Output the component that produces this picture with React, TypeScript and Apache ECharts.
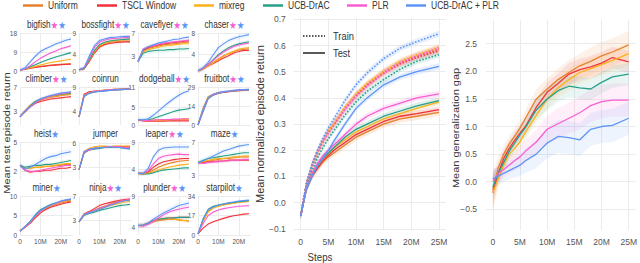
import React, { useEffect, useRef } from "react";
import * as echarts from "echarts";

// ---------- data ----------
const METHODS = ["Uniform", "TSCL Window", "mixreg", "UCB-DrAC", "PLR", "UCB-DrAC + PLR"];
const COLORS = ["#e6812e", "#f2333a", "#fbb11c", "#27a08a", "#f85fd0", "#5d95f6"];

const SMALL_STEPS = [0, 2.5, 5, 7.5, 10, 12.5, 15, 17.5, 20, 22.5, 25]; // millions
const SMALL_XTICKS = [0, 10, 20];

const GAME_NAMES = ["bigfish", "bossfight", "caveflyer", "chaser", "climber", "coinrun", "dodgeball", "fruitbot", "heist", "jumper", "leaper", "maze", "miner", "ninja", "plunder", "starpilot"];
const GAME_STARS = ["pb", "pb", "pb", "pb", "pb", "", "pb", "pb", "b", "", "pb", "b", "b", "pb", "pb", "b"];
const GAME_YMIN = [0, 0, 0.6, 1, 0.7, 1.1, 0, 0, 1.1, 1.4, 2.1, 2.4, 0, 0.5, 2.8, 0];
const GAME_YMAX = [18, 9, 7, 8, 7, 9, 11, 29, 5, 6.2, 9, 7, 10, 7, 9, 34];
const GAME_YTICKS = [[0, 9, 18], [0, 4, 9], [3, 7], [4, 8], [3, 7], [4, 9], [0, 5, 11], [0, 14, 29], [2, 5], [3, 6], [4, 9], [3, 7], [0, 5, 10], [3, 7], [4, 9], [0, 17, 34]];

// series order: Uniform, TSCL Window, mixreg, UCB-DrAC, PLR, UCB-DrAC + PLR
const BIGFISH = [
  [0.5, 0.8, 1.4, 1.8, 2.2, 2.5, 2.8, 3.0, 3.2, 3.4, 3.5],
  [0.5, 0.8, 1.3, 1.7, 2.0, 2.3, 2.6, 2.8, 3.0, 3.1, 3.2],
  [0.5, 0.8, 1.5, 2.2, 2.8, 3.4, 4.0, 4.4, 4.8, 5.2, 5.6],
  [0.5, 0.9, 2.0, 3.0, 4.0, 5.0, 5.8, 6.6, 7.3, 8.0, 8.7],
  [0.5, 1.0, 2.5, 4.3, 6.0, 7.3, 8.5, 9.5, 10.5, 11.2, 12.0],
  [0.5, 1.5, 4.3, 7.0, 9.2, 10.5, 11.6, 12.8, 13.6, 14.6, 15.2],
];
const BOSSFIGHT = [
  [0.3, 0.6, 2.4, 4.4, 5.8, 6.4, 6.8, 6.9, 7.0, 7.1, 7.1],
  [0.3, 0.5, 2.2, 4.2, 5.6, 6.2, 6.5, 6.7, 6.8, 6.9, 6.9],
  [0.3, 0.6, 2.5, 4.5, 6.0, 6.6, 7.0, 7.2, 7.3, 7.4, 7.4],
  [0.3, 0.6, 2.6, 4.8, 6.2, 6.8, 7.1, 7.3, 7.4, 7.5, 7.6],
  [0.3, 0.7, 3.0, 5.5, 6.8, 7.3, 7.6, 7.7, 7.8, 7.9, 8.0],
  [0.3, 0.8, 3.5, 6.0, 7.2, 7.6, 7.9, 8.0, 8.1, 8.2, 8.2],
];
const CAVEFLYER = [
  [2.2, 4.0, 4.4, 4.6, 4.8, 5.0, 5.1, 5.2, 5.3, 5.4, 5.5],
  [2.2, 4.1, 4.5, 4.8, 5.0, 5.2, 5.3, 5.4, 5.5, 5.6, 5.7],
  [2.2, 3.8, 4.2, 4.4, 4.6, 4.8, 4.9, 5.0, 5.1, 5.2, 5.2],
  [2.2, 3.6, 3.9, 4.0, 4.1, 4.1, 4.2, 4.2, 4.3, 4.3, 4.4],
  [2.2, 4.3, 4.7, 4.9, 5.1, 5.3, 5.4, 5.5, 5.6, 5.7, 5.8],
  [2.2, 4.2, 4.7, 5.0, 5.3, 5.5, 5.7, 5.9, 6.0, 6.2, 6.3],
];
const CHASER = [
  [1.0, 1.4, 2.0, 2.6, 3.2, 3.8, 4.2, 4.6, 4.9, 5.0, 5.1],
  [1.0, 1.4, 1.9, 2.4, 2.9, 3.4, 3.8, 4.3, 4.6, 4.8, 4.8],
  [1.0, 1.4, 1.9, 2.5, 3.1, 3.7, 4.2, 4.6, 5.0, 5.2, 5.3],
  [1.0, 1.5, 2.2, 3.1, 4.0, 4.7, 5.3, 5.7, 6.0, 6.2, 6.4],
  [1.0, 1.5, 2.2, 3.0, 3.8, 4.5, 5.0, 5.5, 5.8, 6.0, 6.1],
  [1.0, 1.6, 2.6, 4.0, 5.3, 6.0, 6.6, 7.0, 7.3, 7.5, 7.7],
];
const CLIMBER = [
  [2.1, 3.0, 3.8, 4.4, 4.8, 5.1, 5.3, 5.4, 5.6, 5.7, 5.8],
  [2.1, 2.9, 3.7, 4.3, 4.6, 4.8, 5.0, 5.1, 5.2, 5.3, 5.4],
  [2.1, 3.1, 4.0, 4.6, 4.9, 5.2, 5.4, 5.5, 5.7, 5.8, 5.9],
  [2.1, 3.0, 3.9, 4.6, 5.0, 5.3, 5.5, 5.6, 5.8, 5.9, 6.0],
  [2.1, 3.0, 3.8, 4.4, 4.9, 5.2, 5.5, 5.7, 5.9, 6.0, 6.1],
  [2.1, 3.0, 3.8, 4.5, 5.0, 5.3, 5.6, 5.8, 6.0, 6.1, 6.2],
];
const COINRUN = [
  [2.8, 7.4, 7.9, 8.1, 8.2, 8.3, 8.4, 8.5, 8.5, 8.6, 8.6],
  [2.8, 7.5, 8.0, 8.1, 8.2, 8.3, 8.4, 8.5, 8.5, 8.6, 8.6],
  [2.8, 7.3, 7.8, 8.0, 8.2, 8.3, 8.4, 8.4, 8.5, 8.5, 8.6],
  [2.8, 7.0, 7.7, 7.9, 8.1, 8.2, 8.3, 8.4, 8.4, 8.5, 8.5],
  [2.8, 7.2, 7.8, 8.0, 8.2, 8.3, 8.4, 8.4, 8.5, 8.5, 8.6],
  [2.8, 7.1, 7.7, 8.0, 8.1, 8.2, 8.3, 8.4, 8.5, 8.5, 8.5],
];
const DODGEBALL = [
  [1.5, 1.3, 1.3, 1.3, 1.4, 1.4, 1.5, 1.5, 1.5, 1.6, 1.6],
  [1.5, 1.2, 1.1, 1.1, 1.1, 1.1, 1.2, 1.2, 1.2, 1.2, 1.2],
  [1.5, 1.3, 1.3, 1.4, 1.4, 1.5, 1.5, 1.6, 1.6, 1.7, 1.7],
  [1.5, 1.4, 1.5, 1.9, 2.4, 2.9, 3.4, 3.9, 4.3, 4.5, 4.7],
  [1.5, 1.3, 1.3, 1.4, 1.5, 1.6, 1.6, 1.7, 1.7, 1.8, 1.8],
  [1.5, 1.5, 1.8, 2.8, 4.0, 5.3, 6.5, 7.6, 8.6, 9.4, 9.9],
];
const FRUITBOT = [
  [0, 13, 21.5, 23.5, 24.5, 25.1, 25.6, 26, 26.3, 26.5, 26.7],
  [0, 11.5, 20.8, 23.2, 24.3, 25, 25.5, 25.9, 26.2, 26.4, 26.6],
  [0, 12.5, 21.5, 23.5, 24.6, 25.2, 25.7, 26.1, 26.4, 26.6, 26.8],
  [0, 10, 20, 22.8, 24.3, 25, 25.6, 26, 26.4, 26.6, 26.8],
  [0, 11, 20.5, 23, 24.5, 25.3, 25.8, 26.2, 26.6, 26.8, 27],
  [0, 12, 21, 23.5, 24.8, 25.5, 26, 26.4, 26.8, 27, 27.2],
];
const HEIST = [
  [2.6, 2.3, 2.3, 2.4, 2.4, 2.5, 2.5, 2.6, 2.6, 2.7, 2.7],
  [2.6, 2.1, 1.9, 2.0, 2.0, 2.1, 2.1, 2.2, 2.3, 2.3, 2.4],
  [2.6, 2.3, 2.3, 2.4, 2.4, 2.5, 2.5, 2.6, 2.7, 2.8, 2.8],
  [2.6, 2.4, 2.5, 2.6, 2.6, 2.7, 2.7, 2.8, 2.9, 3.0, 3.1],
  [2.6, 2.1, 2.0, 2.0, 2.1, 2.2, 2.3, 2.4, 2.5, 2.6, 2.6],
  [2.6, 2.2, 2.4, 2.7, 3.0, 3.3, 3.5, 3.6, 3.8, 3.9, 4.0],
];
const JUMPER = [
  [2.7, 4.9, 5.3, 5.4, 5.5, 5.5, 5.5, 5.6, 5.6, 5.6, 5.6],
  [2.7, 4.9, 5.2, 5.4, 5.5, 5.6, 5.6, 5.6, 5.6, 5.6, 5.6],
  [2.7, 5.0, 5.4, 5.6, 5.7, 5.7, 5.6, 5.7, 5.7, 5.7, 5.7],
  [2.7, 4.8, 5.2, 5.3, 5.4, 5.5, 5.5, 5.5, 5.5, 5.4, 5.4],
  [2.7, 4.9, 5.2, 5.4, 5.5, 5.5, 5.6, 5.6, 5.6, 5.5, 5.5],
  [2.7, 5.0, 5.3, 5.4, 5.5, 5.5, 5.6, 5.5, 5.5, 5.4, 5.3],
];
const LEAPER = [
  [3.3, 3.2, 3.4, 3.9, 4.4, 4.8, 5.1, 5.3, 5.5, 5.6, 5.7],
  [3.3, 3.3, 3.6, 4.4, 5.0, 5.4, 5.6, 5.8, 5.9, 6.0, 6.0],
  [3.3, 3.2, 3.3, 3.6, 3.9, 4.2, 4.4, 4.6, 4.8, 4.9, 5.0],
  [3.3, 3.2, 3.2, 3.4, 3.7, 3.9, 4.0, 4.1, 4.2, 4.3, 4.3],
  [3.3, 3.3, 3.8, 5.0, 6.0, 6.4, 6.6, 6.7, 6.8, 6.7, 6.7],
  [3.3, 3.3, 4.2, 6.3, 7.5, 7.9, 8.0, 8.1, 8.1, 8.1, 8.1],
];
const MAZE = [
  [4.5, 4.6, 4.7, 4.8, 4.9, 5.0, 5.0, 5.1, 5.2, 5.2, 5.2],
  [4.5, 4.5, 4.6, 4.6, 4.7, 4.7, 4.8, 4.8, 4.8, 4.8, 4.8],
  [4.5, 4.6, 4.8, 4.9, 5.0, 5.0, 5.1, 5.2, 5.2, 5.3, 5.3],
  [4.5, 4.8, 5.0, 5.1, 5.2, 5.3, 5.4, 5.5, 5.6, 5.7, 5.7],
  [4.5, 4.4, 4.5, 4.6, 4.6, 4.7, 4.7, 4.8, 4.8, 4.9, 4.9],
  [4.5, 4.7, 5.0, 5.3, 5.6, 5.9, 6.1, 6.3, 6.5, 6.6, 6.7],
];
const MINER = [
  [1.0, 2.1, 3.2, 4.7, 6.0, 6.7, 7.3, 7.8, 8.2, 8.5, 8.8],
  [1.0, 2.0, 3.0, 4.4, 5.6, 6.5, 7.1, 7.5, 7.9, 8.2, 8.5],
  [1.0, 2.1, 3.3, 4.9, 6.2, 6.9, 7.5, 8.0, 8.4, 8.7, 9.0],
  [1.0, 2.2, 3.5, 5.2, 6.5, 7.2, 7.8, 8.2, 8.6, 8.9, 9.1],
  [1.0, 2.1, 3.3, 4.8, 6.1, 6.9, 7.6, 8.1, 8.6, 8.9, 9.2],
  [1.0, 2.2, 3.4, 5.0, 6.3, 7.0, 7.7, 8.2, 8.7, 9.0, 9.2],
];
const NINJA = [
  [2.7, 3.9, 4.3, 4.6, 5.0, 5.3, 5.6, 5.9, 6.1, 6.3, 6.4],
  [2.7, 4.0, 4.4, 4.9, 5.4, 5.7, 5.9, 6.1, 6.3, 6.4, 6.5],
  [2.7, 3.8, 4.2, 4.5, 4.8, 5.1, 5.4, 5.6, 5.8, 6.0, 6.1],
  [2.7, 3.8, 4.1, 4.3, 4.6, 4.8, 5.0, 5.2, 5.4, 5.5, 5.6],
  [2.7, 3.9, 4.3, 4.6, 4.9, 5.2, 5.5, 5.8, 6.1, 6.3, 6.5],
  [2.7, 3.9, 4.2, 4.5, 4.8, 5.1, 5.4, 5.7, 6.0, 6.2, 6.3],
];
const PLUNDER = [
  [4.3, 4.3, 4.6, 4.9, 5.1, 5.2, 5.3, 5.3, 5.2, 5.1, 5.0],
  [4.3, 4.3, 4.6, 5.0, 5.3, 5.4, 5.5, 5.5, 5.6, 5.6, 5.6],
  [4.3, 4.4, 4.7, 5.0, 5.3, 5.4, 5.4, 5.3, 5.2, 5.1, 5.1],
  [4.3, 4.4, 4.7, 5.1, 5.3, 5.4, 5.5, 5.5, 5.6, 5.6, 5.6],
  [4.3, 4.2, 4.5, 5.0, 5.5, 6.0, 6.4, 6.7, 6.9, 7.1, 7.2],
  [4.3, 4.4, 4.7, 5.3, 5.8, 6.3, 6.7, 7.1, 7.5, 7.7, 7.9],
];
const STARPILOT = [
  [1, 12.5, 21, 24, 25.5, 26.5, 27.3, 28, 28.6, 29, 29.3],
  [1, 6, 9.5, 11.5, 13, 14.5, 15.8, 16.8, 17.5, 18.2, 18.5],
  [1, 12, 20, 23.5, 25, 26.2, 27, 27.8, 28.5, 29, 29.3],
  [1, 14, 22.5, 25, 26.2, 27, 27.8, 28.4, 29, 29.5, 30],
  [1, 10, 17, 20, 21.8, 23, 23.8, 24.4, 25, 25.3, 25.5],
  [1, 14, 22, 24.5, 26, 27, 28, 28.8, 29.5, 30, 30.5],
];
const GAME_DATA = [BIGFISH, BOSSFIGHT, CAVEFLYER, CHASER, CLIMBER, COINRUN, DODGEBALL, FRUITBOT, HEIST, JUMPER, LEAPER, MAZE, MINER, NINJA, PLUNDER, STARPILOT];
// half-width of the shaded spread, per game and method
const GAME_SPREAD = [
  [0.3, 0.3, 0.5, 0.6, 0.8, 1.2],
  [0.4, 0.4, 0.4, 0.4, 0.4, 0.4],
  [0.3, 0.3, 0.3, 0.5, 0.3, 0.3],
  [0.3, 0.3, 0.3, 0.4, 0.4, 0.5],
  [0.3, 0.3, 0.3, 0.3, 0.3, 0.3],
  [0.2, 0.2, 0.2, 0.2, 0.2, 0.2],
  [0.2, 0.2, 0.2, 0.6, 0.2, 0.8],
  [0.8, 0.8, 0.8, 0.8, 0.8, 0.8],
  [0.15, 0.15, 0.15, 0.2, 0.15, 0.35],
  [0.15, 0.15, 0.15, 0.15, 0.15, 0.15],
  [0.3, 0.3, 0.3, 0.3, 0.4, 0.5],
  [0.2, 0.2, 0.2, 0.3, 0.2, 0.3],
  [0.3, 0.3, 0.3, 0.3, 0.3, 0.3],
  [0.3, 0.3, 0.3, 0.3, 0.3, 0.3],
  [0.3, 0.3, 0.3, 0.3, 0.4, 0.5],
  [1.0, 1.0, 1.0, 1.0, 1.0, 1.0],
];

// middle panel: mean normalized episode return
const MAIN_STEPS = [0, 1, 2, 3, 4, 5, 6, 8, 10, 12, 15, 18, 21, 25];
const MAIN_XTICKS = [0, 5, 10, 15, 20, 25];
const NORM_YTICKS = [-0.1, 0, 0.1, 0.2, 0.3, 0.4, 0.5, 0.6, 0.7];
const TEST_RETURN = [
  [-0.05, 0.05, 0.10, 0.13, 0.155, 0.175, 0.19, 0.22, 0.25, 0.27, 0.30, 0.32, 0.33, 0.345],
  [-0.05, 0.05, 0.10, 0.13, 0.16, 0.18, 0.20, 0.23, 0.26, 0.28, 0.31, 0.33, 0.34, 0.355],
  [-0.05, 0.05, 0.11, 0.14, 0.17, 0.19, 0.21, 0.24, 0.27, 0.29, 0.32, 0.34, 0.36, 0.385],
  [-0.05, 0.05, 0.10, 0.14, 0.17, 0.19, 0.21, 0.25, 0.28, 0.30, 0.33, 0.35, 0.37, 0.39],
  [-0.05, 0.05, 0.11, 0.15, 0.18, 0.20, 0.22, 0.26, 0.30, 0.33, 0.36, 0.38, 0.40, 0.415],
  [-0.05, 0.05, 0.10, 0.14, 0.17, 0.20, 0.235, 0.30, 0.36, 0.40, 0.45, 0.48, 0.50, 0.52],
];
const TRAIN_RETURN = [
  [-0.05, 0.07, 0.14, 0.19, 0.235, 0.27, 0.30, 0.36, 0.41, 0.45, 0.50, 0.535, 0.56, 0.585],
  [-0.05, 0.07, 0.14, 0.19, 0.235, 0.27, 0.30, 0.36, 0.41, 0.45, 0.495, 0.53, 0.555, 0.58],
  [-0.05, 0.07, 0.14, 0.19, 0.235, 0.27, 0.305, 0.365, 0.415, 0.455, 0.50, 0.54, 0.565, 0.595],
  [-0.05, 0.06, 0.12, 0.17, 0.21, 0.245, 0.275, 0.335, 0.385, 0.425, 0.47, 0.51, 0.54, 0.565],
  [-0.05, 0.07, 0.14, 0.19, 0.23, 0.265, 0.295, 0.355, 0.405, 0.445, 0.495, 0.535, 0.56, 0.59],
  [-0.05, 0.07, 0.145, 0.20, 0.245, 0.285, 0.32, 0.39, 0.45, 0.495, 0.55, 0.59, 0.615, 0.645],
];
const RETURN_SPREAD = [0.014, 0.012, 0.012, 0.012, 0.012, 0.012];

// right panel: mean generalization gap
const GAP_STEPS = [0, 1, 2, 3, 4, 5, 6, 8, 10, 12, 14, 16, 18, 20, 22, 25];
const GAP_YTICKS = [-0.5, 0, 0.5, 1, 1.5, 2, 2.5];
const GAP = [
  [-0.15, 0.25, 0.5, 0.68, 0.82, 0.97, 1.15, 1.5, 1.68, 1.85, 1.98, 2.1, 2.18, 2.28, 2.35, 2.48],
  [-0.2, 0.15, 0.42, 0.6, 0.75, 0.88, 1.0, 1.35, 1.62, 1.78, 1.95, 2.03, 2.08, 2.15, 2.25, 2.17],
  [-0.2, 0.05, 0.3, 0.5, 0.6, 0.72, 0.9, 1.2, 1.5, 1.7, 1.85, 1.98, 2.05, 2.12, 2.2, 2.32],
  [-0.1, 0.15, 0.35, 0.55, 0.7, 0.85, 0.98, 1.3, 1.5, 1.65, 1.73, 1.7, 1.68, 1.8, 1.9, 1.95],
  [0.0, 0.15, 0.22, 0.3, 0.38, 0.45, 0.55, 0.72, 0.95, 1.05, 1.15, 1.25, 1.38, 1.45, 1.48, 1.48],
  [0.05, 0.1, 0.15, 0.2, 0.25, 0.3, 0.38, 0.5, 0.7, 0.82, 0.8, 0.76, 0.95, 1.0, 1.02, 1.15],
];
const GAP_SPREAD = [
  [0.3, 0.2, 0.15, 0.15, 0.15, 0.15, 0.15, 0.18, 0.2, 0.2, 0.22, 0.22, 0.25, 0.25, 0.25, 0.25],
  [0.3, 0.2, 0.15, 0.15, 0.15, 0.15, 0.15, 0.15, 0.18, 0.18, 0.2, 0.2, 0.2, 0.2, 0.2, 0.2],
  [0.3, 0.2, 0.15, 0.15, 0.15, 0.15, 0.15, 0.15, 0.18, 0.18, 0.2, 0.2, 0.2, 0.2, 0.2, 0.2],
  [0.25, 0.15, 0.15, 0.15, 0.15, 0.15, 0.18, 0.18, 0.2, 0.2, 0.2, 0.2, 0.2, 0.2, 0.2, 0.2],
  [0.2, 0.15, 0.15, 0.15, 0.18, 0.2, 0.2, 0.22, 0.25, 0.28, 0.28, 0.3, 0.3, 0.3, 0.3, 0.3],
  [0.2, 0.15, 0.15, 0.15, 0.18, 0.2, 0.22, 0.25, 0.28, 0.3, 0.3, 0.3, 0.3, 0.3, 0.3, 0.3],
];

// ---------- layout ----------
const FONT = "'Liberation Sans', Arial, Helvetica, sans-serif";
const STAR_FONT = "'DejaVu Sans', sans-serif";
const COL_LEFT = [20, 79, 138, 198];
const ROW_TOP = [33, 87, 142, 196];
const ROW_H = [38, 38, 38, 39];
const SMALL_W = 53;
const LEGEND_X = [23, 97, 194, 263, 347, 406];
const MID_RECT = { left: 293.8, top: 18, width: 152.1, height: 212.2 };
const GAP_RECT = { left: 486, top: 20, width: 153, height: 210 };
const GRID_COLOR = "#ebebeb";
const LABEL_COLOR = "#555";
const TEXT_COLOR = "#333";

function fmtM(v: number) {
  return v === 0 ? "0" : `${v}M`;
}
function fmtDec(v: number) {
  const r = Math.round(v * 10) / 10;
  const s = Math.abs(r).toFixed(1);
  return r < 0 ? `\u2212${s}` : s;
}

function band(xs: number[], lo: number[], hi: number[], color: string, axis: number, opacity: number) {
  return {
    type: "custom",
    xAxisIndex: axis,
    yAxisIndex: axis,
    silent: true,
    z: 1,
    data: [[xs[0], lo[0]]],
    renderItem: (_p: any, api: any) => {
      const pts: number[][] = [];
      for (let i = 0; i < xs.length; i++) pts.push(api.coord([xs[i], hi[i]]));
      for (let i = xs.length - 1; i >= 0; i--) pts.push(api.coord([xs[i], lo[i]]));
      return { type: "polygon", shape: { points: pts }, style: { fill: color, opacity } };
    },
  };
}

function noLine() {
  return { show: false, onZero: false };
}

function buildGraphic() {
  const graphic: any[] = [];
  GAME_NAMES.forEach((name, g) => {
    const col = g % 4;
    const row = Math.floor(g / 4);
    const stars = GAME_STARS[g];
    let txt = `{n|${name}}`;
    if (stars.includes("p")) txt += "{p|\u2605}";
    if (stars.includes("b")) txt += "{b|\u2605}";
    graphic.push({
      type: "text",
      x: COL_LEFT[col] + SMALL_W / 2,
      y: ROW_TOP[row] - 8,
      scaleX: 0.82,
      style: {
        text: txt,
        align: "center",
        verticalAlign: "middle",
        rich: {
          n: { fontSize: 10, fontFamily: FONT, fill: TEXT_COLOR, color: TEXT_COLOR },
          p: { fontSize: 10.5, fontFamily: STAR_FONT, fill: COLORS[4], color: COLORS[4] },
          b: { fontSize: 10.5, fontFamily: STAR_FONT, fill: COLORS[5], color: COLORS[5] },
        },
      },
    });
  });
  METHODS.forEach((name, m) => {
    const x = LEGEND_X[m];
    graphic.push(
      { type: "line", shape: { x1: x, y1: 5.5, x2: x + 20, y2: 5.5 }, style: { stroke: COLORS[m], lineWidth: 2.5 } },
      { type: "text", x: x + 25, y: 5.5, scaleX: 0.74, style: { text: name, fontSize: 11.5, fontFamily: FONT, fill: TEXT_COLOR, align: "left", verticalAlign: "middle" } },
    );
  });
  const titleStyle = { fontSize: 11, fontFamily: FONT, fill: TEXT_COLOR, align: "center", verticalAlign: "middle" };
  graphic.push(
    { type: "text", x: 7, y: 133, rotation: Math.PI / 2, scaleY: 0.85, style: { ...titleStyle, text: "Mean test episode return" } },
    { type: "text", x: 456, y: 128, rotation: Math.PI / 2, scaleY: 0.85, style: { ...titleStyle, text: "Mean generalization gap" } },
    { type: "text", x: 320, y: 257, scaleX: 0.88, style: { ...titleStyle, text: "Steps" } },
    { type: "line", shape: { x1: 303, y1: 36, x2: 325, y2: 36 }, style: { stroke: "#222", lineWidth: 1.5, lineDash: [1.5, 1.5] } },
    { type: "text", x: 333, y: 36, scaleX: 0.85, style: { ...titleStyle, align: "left", text: "Train" } },
    { type: "line", shape: { x1: 303, y1: 53, x2: 325, y2: 53 }, style: { stroke: "#222", lineWidth: 1.5 } },
    { type: "text", x: 333, y: 53, scaleX: 0.85, style: { ...titleStyle, align: "left", text: "Test" } },
  );
  return graphic;
}

function buildOption() {
  const grid: any[] = [];
  const xAxis: any[] = [];
  const yAxis: any[] = [];
  const series: any[] = [];
  const split = () => ({ show: true, lineStyle: { color: GRID_COLOR, width: 1 } });

  // middle panel (grid 0)
  grid.push({ ...MID_RECT, containLabel: false });
  xAxis.push({
    gridIndex: 0, type: "value", position: "bottom", min: -1.25, max: 26.25,
    axisLine: noLine(),
    axisTick: { show: false, customValues: MAIN_XTICKS },
    axisLabel: { customValues: MAIN_XTICKS, formatter: (v: number) => fmtM(v), fontSize: 8.5, color: LABEL_COLOR, fontFamily: FONT, margin: 7 },
    splitLine: split(),
  });
  yAxis.push({
    gridIndex: 0, type: "value", position: "left", min: -0.105, max: 0.705,
    name: "Mean normalized episode return",
    nameLocation: "middle",
    nameGap: 25,
    nameTextStyle: { fontSize: 11, fontFamily: FONT, color: TEXT_COLOR },
    axisLine: noLine(),
    axisTick: { show: false, customValues: NORM_YTICKS },
    axisLabel: { show: true, customValues: NORM_YTICKS, formatter: (v: number) => fmtDec(v), fontSize: 8.5, color: LABEL_COLOR, fontFamily: FONT, margin: 8 },
    splitLine: split(),
  });
  METHODS.forEach((name, m) => {
    const tr = TRAIN_RETURN[m];
    const te = TEST_RETURN[m];
    const s = RETURN_SPREAD[m];
    series.push(band(MAIN_STEPS, tr.map((v) => v - s), tr.map((v) => v + s), COLORS[m], 0, 0.15));
    series.push(band(MAIN_STEPS, te.map((v) => v - s), te.map((v) => v + s), COLORS[m], 0, 0.15));
  });
  METHODS.forEach((name, m) => {
    series.push({
      type: "line", name, xAxisIndex: 0, yAxisIndex: 0,
      data: MAIN_STEPS.map((x, i) => [x, TRAIN_RETURN[m][i]]),
      showSymbol: false, symbol: "none",
      lineStyle: { color: COLORS[m], width: 1.6, type: "dotted" },
      z: 3 + m,
    });
    series.push({
      type: "line", name, xAxisIndex: 0, yAxisIndex: 0,
      data: MAIN_STEPS.map((x, i) => [x, TEST_RETURN[m][i]]),
      showSymbol: false, symbol: "none",
      lineStyle: { color: COLORS[m], width: 1.3 },
      z: 3 + m,
    });
  });

  // right panel (grid 1)
  grid.push({ ...GAP_RECT, containLabel: false });
  xAxis.push({
    gridIndex: 1, type: "value", position: "bottom", min: -1.25, max: 26.25,
    axisLine: noLine(),
    axisTick: { show: false, customValues: MAIN_XTICKS },
    axisLabel: { customValues: MAIN_XTICKS, formatter: (v: number) => fmtM(v), fontSize: 8.5, color: LABEL_COLOR, fontFamily: FONT, margin: 7 },
    splitLine: split(),
  });
  yAxis.push({
    gridIndex: 1, type: "value", position: "left", min: -0.875, max: 2.93,
    axisLine: noLine(),
    axisTick: { show: false, customValues: GAP_YTICKS },
    axisLabel: { customValues: GAP_YTICKS, formatter: (v: number) => fmtDec(v), fontSize: 8.5, color: LABEL_COLOR, fontFamily: FONT, margin: 9 },
    splitLine: split(),
  });
  METHODS.forEach((name, m) => {
    const v = GAP[m];
    const s = GAP_SPREAD[m];
    series.push(band(GAP_STEPS, v.map((x, i) => x - s[i]), v.map((x, i) => x + s[i]), COLORS[m], 1, 0.1));
  });
  METHODS.forEach((name, m) => {
    series.push({
      type: "line", name, xAxisIndex: 1, yAxisIndex: 1,
      data: GAP_STEPS.map((x, i) => [x, GAP[m][i]]),
      showSymbol: false, symbol: "none",
      lineStyle: { color: COLORS[m], width: 1.3 },
      z: 3 + m,
    });
  });

  // small multiples (grids 2..17)
  GAME_NAMES.forEach((name, g) => {
    const gi = g + 2;
    const col = g % 4;
    const row = Math.floor(g / 4);
    grid.push({ left: COL_LEFT[col], top: ROW_TOP[row], width: SMALL_W, height: ROW_H[row], containLabel: false });
    xAxis.push({
      gridIndex: gi, type: "value", position: "bottom", min: 0, max: 26,
      axisLine: noLine(),
      axisTick: { show: false, customValues: SMALL_XTICKS },
      axisLabel: { show: row === 3, customValues: SMALL_XTICKS, formatter: (v: number) => fmtM(v), fontSize: 6.5, color: LABEL_COLOR, fontFamily: FONT, margin: 3 },
      splitLine: split(),
    });
    yAxis.push({
      gridIndex: gi, type: "value", position: "left", min: GAME_YMIN[g], max: GAME_YMAX[g],
      axisLine: noLine(),
      axisTick: { show: false, customValues: GAME_YTICKS[g] },
      axisLabel: { customValues: GAME_YTICKS[g], formatter: (v: number) => `${v}`, fontSize: 6.5, color: LABEL_COLOR, fontFamily: FONT, margin: 3 },
      splitLine: split(),
    });
    GAME_DATA[g].forEach((vals, m) => {
      const s = GAME_SPREAD[g][m];
      series.push(band(SMALL_STEPS, vals.map((v) => v - s), vals.map((v) => v + s), COLORS[m], gi, 0.08));
    });
    GAME_DATA[g].forEach((vals, m) => {
      series.push({
        type: "line", name: METHODS[m], xAxisIndex: gi, yAxisIndex: gi,
        data: SMALL_STEPS.map((x, i) => [x, vals[i]]),
        showSymbol: false, symbol: "none",
        lineStyle: { color: COLORS[m], width: 1.1 },
        itemStyle: { color: COLORS[m] },
        z: 2 + m,
      });
    });
  });

  return {
    animation: false,
    backgroundColor: "#ffffff",
    grid,
    xAxis,
    yAxis,
    series,
    graphic: buildGraphic(),
  };
}

export default function App() {
  const ref = useRef<HTMLDivElement>(null);
  useEffect(() => {
    if (!ref.current) return;
    const chart = echarts.init(ref.current, undefined, { renderer: "svg" });
    chart.setOption(buildOption() as any);
    return () => chart.dispose();
  }, []);
  return <div ref={ref} style={{ position: "fixed", left: 0, top: 0, width: 640, height: 263, background: "#fff" }} />;
}
